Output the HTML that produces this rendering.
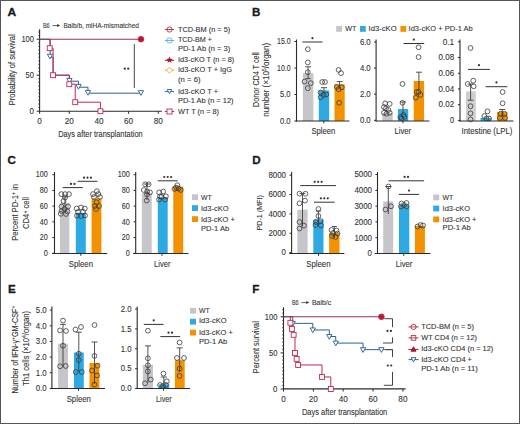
<!DOCTYPE html>
<html><head><meta charset="utf-8"><style>
html,body{margin:0;padding:0;background:#fff;}
body{width:520px;height:424px;overflow:hidden;}
svg{display:block;font-family:"Liberation Sans", sans-serif;}
</style></head><body>
<svg width="520" height="424" viewBox="0 0 520 424">
<rect x="0" y="0" width="520" height="424" fill="#fff"/>
<text x="7.40" y="15.80" font-size="11.6" fill="#1a1a1a" stroke="#1a1a1a" stroke-width="0.3" textLength="8.70" lengthAdjust="spacingAndGlyphs" font-weight="bold">A</text>
<text x="42.90" y="28.00" font-size="7.2" fill="#333333" stroke="#333333" stroke-width="0.1" textLength="6.70" lengthAdjust="spacingAndGlyphs">B6</text>
<line x1="52.50" y1="25.60" x2="58.00" y2="25.60" stroke="#333333" stroke-width="0.8"/>
<polygon points="57.20,24.10 60.20,25.60 57.20,27.10" fill="#333333"/>
<text x="63.50" y="28.00" font-size="7.2" fill="#333333" stroke="#333333" stroke-width="0.1" textLength="75.50" lengthAdjust="spacingAndGlyphs">Balb/b, miHA-mismatched</text>
<line x1="39.60" y1="29.30" x2="39.60" y2="111.80" stroke="#2b2b2b" stroke-width="1.1"/>
<line x1="36.60" y1="111.20" x2="39.60" y2="111.20" stroke="#2b2b2b" stroke-width="1.0"/>
<line x1="38.30" y1="107.60" x2="39.60" y2="107.60" stroke="#2b2b2b" stroke-width="0.8"/>
<line x1="38.30" y1="104.00" x2="39.60" y2="104.00" stroke="#2b2b2b" stroke-width="0.8"/>
<line x1="38.30" y1="100.40" x2="39.60" y2="100.40" stroke="#2b2b2b" stroke-width="0.8"/>
<line x1="38.30" y1="96.80" x2="39.60" y2="96.80" stroke="#2b2b2b" stroke-width="0.8"/>
<line x1="38.30" y1="93.20" x2="39.60" y2="93.20" stroke="#2b2b2b" stroke-width="0.8"/>
<line x1="38.30" y1="89.60" x2="39.60" y2="89.60" stroke="#2b2b2b" stroke-width="0.8"/>
<line x1="38.30" y1="86.00" x2="39.60" y2="86.00" stroke="#2b2b2b" stroke-width="0.8"/>
<line x1="38.30" y1="82.40" x2="39.60" y2="82.40" stroke="#2b2b2b" stroke-width="0.8"/>
<line x1="38.30" y1="78.80" x2="39.60" y2="78.80" stroke="#2b2b2b" stroke-width="0.8"/>
<line x1="36.60" y1="75.20" x2="39.60" y2="75.20" stroke="#2b2b2b" stroke-width="1.0"/>
<line x1="38.30" y1="71.60" x2="39.60" y2="71.60" stroke="#2b2b2b" stroke-width="0.8"/>
<line x1="38.30" y1="68.00" x2="39.60" y2="68.00" stroke="#2b2b2b" stroke-width="0.8"/>
<line x1="38.30" y1="64.40" x2="39.60" y2="64.40" stroke="#2b2b2b" stroke-width="0.8"/>
<line x1="38.30" y1="60.80" x2="39.60" y2="60.80" stroke="#2b2b2b" stroke-width="0.8"/>
<line x1="38.30" y1="57.20" x2="39.60" y2="57.20" stroke="#2b2b2b" stroke-width="0.8"/>
<line x1="38.30" y1="53.60" x2="39.60" y2="53.60" stroke="#2b2b2b" stroke-width="0.8"/>
<line x1="38.30" y1="50.00" x2="39.60" y2="50.00" stroke="#2b2b2b" stroke-width="0.8"/>
<line x1="38.30" y1="46.40" x2="39.60" y2="46.40" stroke="#2b2b2b" stroke-width="0.8"/>
<line x1="38.30" y1="42.80" x2="39.60" y2="42.80" stroke="#2b2b2b" stroke-width="0.8"/>
<line x1="36.60" y1="39.20" x2="39.60" y2="39.20" stroke="#2b2b2b" stroke-width="1.0"/>
<line x1="38.30" y1="35.60" x2="39.60" y2="35.60" stroke="#2b2b2b" stroke-width="0.8"/>
<line x1="38.30" y1="32.00" x2="39.60" y2="32.00" stroke="#2b2b2b" stroke-width="0.8"/>
<text x="34.00" y="42.10" font-size="8.2" fill="#333333" stroke="#333333" stroke-width="0.1" textLength="12.60" lengthAdjust="spacingAndGlyphs" text-anchor="end">100</text>
<text x="34.00" y="78.10" font-size="8.2" fill="#333333" stroke="#333333" stroke-width="0.1" textLength="8.40" lengthAdjust="spacingAndGlyphs" text-anchor="end">50</text>
<text x="34.00" y="114.10" font-size="8.2" fill="#333333" stroke="#333333" stroke-width="0.1" textLength="4.40" lengthAdjust="spacingAndGlyphs" text-anchor="end">0</text>
<line x1="39.10" y1="111.30" x2="161.80" y2="111.30" stroke="#2b2b2b" stroke-width="1.1"/>
<line x1="39.60" y1="111.20" x2="39.60" y2="113.80" stroke="#2b2b2b" stroke-width="1.0"/>
<text x="39.60" y="124.20" font-size="8.2" fill="#333333" stroke="#333333" stroke-width="0.1" text-anchor="middle">0</text>
<line x1="69.28" y1="111.20" x2="69.28" y2="113.80" stroke="#2b2b2b" stroke-width="1.0"/>
<text x="69.28" y="124.20" font-size="8.2" fill="#333333" stroke="#333333" stroke-width="0.1" text-anchor="middle">20</text>
<line x1="98.95" y1="111.20" x2="98.95" y2="113.80" stroke="#2b2b2b" stroke-width="1.0"/>
<text x="98.95" y="124.20" font-size="8.2" fill="#333333" stroke="#333333" stroke-width="0.1" text-anchor="middle">40</text>
<line x1="128.63" y1="111.20" x2="128.63" y2="113.80" stroke="#2b2b2b" stroke-width="1.0"/>
<text x="128.63" y="124.20" font-size="8.2" fill="#333333" stroke="#333333" stroke-width="0.1" text-anchor="middle">60</text>
<line x1="158.30" y1="111.20" x2="158.30" y2="113.80" stroke="#2b2b2b" stroke-width="1.0"/>
<text x="158.30" y="124.20" font-size="8.2" fill="#333333" stroke="#333333" stroke-width="0.1" text-anchor="middle">80</text>
<text x="100.40" y="136.50" font-size="9.0" fill="#333333" stroke="#333333" stroke-width="0.1" textLength="84.50" lengthAdjust="spacingAndGlyphs" text-anchor="middle">Days after transplantation</text>
<text transform="translate(14.60,69.80) rotate(-90)" font-size="8.8" fill="#333333" stroke="#333333" stroke-width="0.1" textLength="70.80" lengthAdjust="spacingAndGlyphs" text-anchor="middle">Probability of survival</text>
<path d="M39.6,39.2 H50.13498 V57.2 H53.10258 V75.2 H69.42438 V81.176 H78.47556 V87.224 H87.97188 V93.2 H140.94353999999998" stroke="#2d5f93" stroke-width="1.0" fill="none" />
<path d="M39.6,39.2 H140.94353999999998" stroke="#983452" stroke-width="1.1" fill="none" />
<path d="M49.9866,39.2 V48.2 H53.10258 V75.2 H69.27600000000001 V84.2 H75.21119999999999 V102.2 H100.4358 V111.2" stroke="#bd2a4c" stroke-width="1.0" fill="none" />
<path d="M47.35,54.22 L52.65,54.22 L50.00,58.98 Z" stroke="#2d5f93" stroke-width="0.9" fill="#fff" />
<path d="M66.77,78.41 L72.07,78.41 L69.42,83.19 Z" stroke="#2d5f93" stroke-width="0.9" fill="#fff" />
<path d="M75.83,84.41 L81.13,84.41 L78.48,89.19 Z" stroke="#2d5f93" stroke-width="0.9" fill="#fff" />
<path d="M85.32,90.41 L90.62,90.41 L87.97,95.19 Z" stroke="#2d5f93" stroke-width="0.9" fill="#fff" />
<path d="M138.29,90.61 L143.59,90.61 L140.94,95.39 Z" stroke="#2d5f93" stroke-width="0.9" fill="#fff" />
<rect x="47.24" y="45.75" width="4.9" height="4.9" stroke="#bd2a4c" stroke-width="0.9" fill="#fff"/>
<rect x="50.65" y="72.75" width="4.9" height="4.9" stroke="#bd2a4c" stroke-width="0.9" fill="#fff"/>
<rect x="66.83" y="81.75" width="4.9" height="4.9" stroke="#bd2a4c" stroke-width="0.9" fill="#fff"/>
<rect x="72.76" y="99.75" width="4.9" height="4.9" stroke="#bd2a4c" stroke-width="0.9" fill="#fff"/>
<rect x="97.99" y="108.75" width="4.9" height="4.9" stroke="#bd2a4c" stroke-width="0.9" fill="#fff"/>
<circle cx="140.94" cy="39.20" r="2.8" stroke="#c81e3a" stroke-width="0.9" fill="#c81e3a"/>
<line x1="139.14" y1="39.20" x2="142.74" y2="39.20" stroke="#7a0a1c" stroke-width="0.6"/>
<line x1="134.30" y1="44.20" x2="134.30" y2="88.00" stroke="#444" stroke-width="1.0"/>
<circle cx="124.78" cy="68.70" r="1.1" fill="#333333"/>
<circle cx="128.22" cy="68.70" r="1.1" fill="#333333"/>
<line x1="164.90" y1="29.50" x2="174.10" y2="29.50" stroke="#bd2a4c" stroke-width="1.0"/>
<circle cx="169.50" cy="29.50" r="2.6" stroke="#bd2a4c" stroke-width="0.9" fill="#fff"/>
<line x1="166.90" y1="29.50" x2="172.10" y2="29.50" stroke="#bd2a4c" stroke-width="0.9"/>
<text x="178.00" y="31.70" font-size="7.4" fill="#333333" stroke="#333333" stroke-width="0.1" textLength="52.20" lengthAdjust="spacingAndGlyphs">TCD-BM (n = 5)</text>
<line x1="164.90" y1="40.50" x2="174.10" y2="40.50" stroke="#5aaee0" stroke-width="1.0"/>
<circle cx="169.50" cy="40.50" r="2.6" stroke="#5aaee0" stroke-width="0.9" fill="#fff"/>
<line x1="166.90" y1="40.50" x2="172.10" y2="40.50" stroke="#5aaee0" stroke-width="0.9"/>
<text x="178.00" y="42.40" font-size="7.4" fill="#333333" stroke="#333333" stroke-width="0.1" textLength="34.00" lengthAdjust="spacingAndGlyphs">TCD-BM +</text>
<text x="178.00" y="51.30" font-size="7.4" fill="#333333" stroke="#333333" stroke-width="0.1" textLength="52.20" lengthAdjust="spacingAndGlyphs">PD-1 Ab (n = 3)</text>
<line x1="164.90" y1="60.30" x2="174.10" y2="60.30" stroke="#a8142e" stroke-width="1.0"/>
<polygon points="169.50,56.60 170.40,58.76 172.73,58.95 170.96,60.47 171.50,62.75 169.50,61.53 167.50,62.75 168.04,60.47 166.27,58.95 168.60,58.76" fill="#a8142e"/>
<text x="178.00" y="62.40" font-size="7.4" fill="#333333" stroke="#333333" stroke-width="0.1" textLength="56.20" lengthAdjust="spacingAndGlyphs">Id3-cKO T (n = 8)</text>
<line x1="164.90" y1="70.20" x2="174.10" y2="70.20" stroke="#f2a23a" stroke-width="1.0"/>
<path d="M169.50,67.20 L172.50,70.20 L169.50,73.20 L166.50,70.20 Z" stroke="#f2a23a" stroke-width="0.9" fill="#fff" />
<text x="178.00" y="72.40" font-size="7.4" fill="#333333" stroke="#333333" stroke-width="0.1" textLength="54.00" lengthAdjust="spacingAndGlyphs">Id3-cKO T + IgG</text>
<text x="178.00" y="81.80" font-size="7.4" fill="#333333" stroke="#333333" stroke-width="0.1" textLength="22.50" lengthAdjust="spacingAndGlyphs">(n = 6)</text>
<line x1="164.90" y1="91.60" x2="174.10" y2="91.60" stroke="#2d5f93" stroke-width="1.0"/>
<path d="M167.20,89.53 L171.80,89.53 L169.50,93.67 Z" stroke="#2d5f93" stroke-width="0.9" fill="#fff" />
<text x="178.00" y="93.60" font-size="7.4" fill="#333333" stroke="#333333" stroke-width="0.1" textLength="40.00" lengthAdjust="spacingAndGlyphs">Id3-cKO T +</text>
<text x="178.00" y="102.90" font-size="7.4" fill="#333333" stroke="#333333" stroke-width="0.1" textLength="55.50" lengthAdjust="spacingAndGlyphs">PD-1 Ab (n = 12)</text>
<line x1="164.90" y1="111.50" x2="174.10" y2="111.50" stroke="#bd2a4c" stroke-width="1.0"/>
<rect x="167.00" y="109.00" width="5.0" height="5.0" stroke="#bd2a4c" stroke-width="0.9" fill="#fff"/>
<text x="178.00" y="113.70" font-size="7.4" fill="#333333" stroke="#333333" stroke-width="0.1" textLength="41.00" lengthAdjust="spacingAndGlyphs">WT T (n = 8)</text>
<text x="252.00" y="16.00" font-size="11.6" fill="#1a1a1a" stroke="#1a1a1a" stroke-width="0.3" font-weight="bold">B</text>
<rect x="336.20" y="26.00" width="5.80" height="5.80" fill="#c6c6ca"/>
<text x="345.20" y="31.20" font-size="7.4" fill="#333333" stroke="#333333" stroke-width="0.1" textLength="11.20" lengthAdjust="spacingAndGlyphs">WT</text>
<rect x="360.00" y="26.00" width="5.80" height="5.80" fill="#2eaae3"/>
<text x="368.60" y="31.20" font-size="7.4" fill="#333333" stroke="#333333" stroke-width="0.1" textLength="28.00" lengthAdjust="spacingAndGlyphs">Id3-cKO</text>
<rect x="400.40" y="26.00" width="5.80" height="5.80" fill="#f39200"/>
<text x="408.60" y="31.20" font-size="7.4" fill="#333333" stroke="#333333" stroke-width="0.1" textLength="64.20" lengthAdjust="spacingAndGlyphs">Id3-cKO + PD-1 Ab</text>
<text transform="translate(259.00,79.60) rotate(-90)" font-size="8.6" fill="#333333" stroke="#333333" stroke-width="0.1" textLength="54.60" lengthAdjust="spacingAndGlyphs" text-anchor="middle">Donor CD4 T cell</text>
<text transform="translate(269.30,79.80) rotate(-90)" font-size="8.6" fill="#333333" stroke="#333333" stroke-width="0.1" textLength="74.00" lengthAdjust="spacingAndGlyphs" text-anchor="middle">number (×10<tspan font-size="5.6" dy="-3.0">5</tspan><tspan dy="3.0">/organ)</tspan></text>
<line x1="296.50" y1="39.50" x2="296.50" y2="121.50" stroke="#2b2b2b" stroke-width="1.1"/>
<line x1="294.40" y1="121.00" x2="296.50" y2="121.00" stroke="#2b2b2b" stroke-width="1.0"/>
<text x="290.60" y="123.70" font-size="8.2" fill="#333333" stroke="#333333" stroke-width="0.1" textLength="10.60" lengthAdjust="spacingAndGlyphs" text-anchor="end">0.0</text>
<line x1="294.40" y1="94.50" x2="296.50" y2="94.50" stroke="#2b2b2b" stroke-width="1.0"/>
<text x="290.60" y="97.20" font-size="8.2" fill="#333333" stroke="#333333" stroke-width="0.1" textLength="10.60" lengthAdjust="spacingAndGlyphs" text-anchor="end">5.0</text>
<line x1="294.40" y1="68.00" x2="296.50" y2="68.00" stroke="#2b2b2b" stroke-width="1.0"/>
<text x="290.60" y="70.70" font-size="8.2" fill="#333333" stroke="#333333" stroke-width="0.1" textLength="13.60" lengthAdjust="spacingAndGlyphs" text-anchor="end">10.0</text>
<line x1="294.40" y1="41.50" x2="296.50" y2="41.50" stroke="#2b2b2b" stroke-width="1.0"/>
<text x="290.60" y="44.20" font-size="8.2" fill="#333333" stroke="#333333" stroke-width="0.1" textLength="13.60" lengthAdjust="spacingAndGlyphs" text-anchor="end">15.0</text>
<rect x="302.80" y="73.20" width="10.60" height="47.80" fill="#c6c6ca"/>
<rect x="318.80" y="90.40" width="10.40" height="30.60" fill="#2eaae3"/>
<rect x="334.50" y="84.30" width="10.20" height="36.70" fill="#f39200"/>
<line x1="296.00" y1="121.00" x2="349.40" y2="121.00" stroke="#2b2b2b" stroke-width="1.2"/>
<line x1="323.80" y1="121.00" x2="323.80" y2="123.20" stroke="#2b2b2b" stroke-width="1.0"/>
<line x1="308.10" y1="66.80" x2="308.10" y2="78.60" stroke="#404040" stroke-width="0.9"/>
<line x1="305.10" y1="66.80" x2="311.10" y2="66.80" stroke="#404040" stroke-width="0.9"/>
<line x1="305.60" y1="78.60" x2="310.60" y2="78.60" stroke="#404040" stroke-width="0.9"/>
<line x1="324.00" y1="87.70" x2="324.00" y2="93.00" stroke="#404040" stroke-width="0.9"/>
<line x1="321.00" y1="87.70" x2="327.00" y2="87.70" stroke="#404040" stroke-width="0.9"/>
<line x1="339.60" y1="81.60" x2="339.60" y2="87.50" stroke="#404040" stroke-width="0.9"/>
<line x1="336.60" y1="81.60" x2="342.60" y2="81.60" stroke="#404040" stroke-width="0.9"/>
<circle cx="307.80" cy="49.20" r="2.4" stroke="#3a3a3a" stroke-width="0.8" fill="none"/>
<circle cx="307.80" cy="62.40" r="2.4" stroke="#3a3a3a" stroke-width="0.8" fill="none"/>
<circle cx="307.80" cy="72.20" r="2.4" stroke="#3a3a3a" stroke-width="0.8" fill="none"/>
<circle cx="304.60" cy="81.60" r="2.4" stroke="#3a3a3a" stroke-width="0.8" fill="none"/>
<circle cx="310.80" cy="83.10" r="2.4" stroke="#3a3a3a" stroke-width="0.8" fill="none"/>
<circle cx="307.80" cy="88.20" r="2.4" stroke="#3a3a3a" stroke-width="0.8" fill="none"/>
<circle cx="322.20" cy="82.00" r="2.4" stroke="#3a3a3a" stroke-width="0.8" fill="none"/>
<circle cx="325.00" cy="82.00" r="2.4" stroke="#3a3a3a" stroke-width="0.8" fill="none"/>
<circle cx="320.60" cy="92.60" r="2.4" stroke="#3a3a3a" stroke-width="0.8" fill="none"/>
<circle cx="326.30" cy="94.50" r="2.4" stroke="#3a3a3a" stroke-width="0.8" fill="none"/>
<circle cx="320.60" cy="97.30" r="2.4" stroke="#3a3a3a" stroke-width="0.8" fill="none"/>
<circle cx="323.60" cy="95.00" r="2.4" stroke="#3a3a3a" stroke-width="0.8" fill="none"/>
<circle cx="338.60" cy="69.90" r="2.4" stroke="#3a3a3a" stroke-width="0.8" fill="none"/>
<circle cx="341.00" cy="73.10" r="2.4" stroke="#3a3a3a" stroke-width="0.8" fill="none"/>
<circle cx="336.70" cy="86.90" r="2.4" stroke="#3a3a3a" stroke-width="0.8" fill="none"/>
<circle cx="341.80" cy="87.30" r="2.4" stroke="#3a3a3a" stroke-width="0.8" fill="none"/>
<circle cx="338.60" cy="89.20" r="2.4" stroke="#3a3a3a" stroke-width="0.8" fill="none"/>
<circle cx="339.10" cy="102.80" r="2.4" stroke="#3a3a3a" stroke-width="0.8" fill="none"/>
<line x1="302.40" y1="42.00" x2="322.50" y2="42.00" stroke="#333333" stroke-width="1.0"/>
<circle cx="312.45" cy="38.20" r="1.1" fill="#333333"/>
<text x="323.40" y="134.00" font-size="8.2" fill="#333333" stroke="#333333" stroke-width="0.1" textLength="24.00" lengthAdjust="spacingAndGlyphs" text-anchor="middle">Spleen</text>
<line x1="376.10" y1="39.50" x2="376.10" y2="121.50" stroke="#2b2b2b" stroke-width="1.1"/>
<line x1="374.00" y1="120.30" x2="376.10" y2="120.30" stroke="#2b2b2b" stroke-width="1.0"/>
<text x="370.70" y="123.00" font-size="8.2" fill="#333333" stroke="#333333" stroke-width="0.1" textLength="10.80" lengthAdjust="spacingAndGlyphs" text-anchor="end">0.0</text>
<line x1="374.00" y1="94.20" x2="376.10" y2="94.20" stroke="#2b2b2b" stroke-width="1.0"/>
<text x="370.70" y="96.90" font-size="8.2" fill="#333333" stroke="#333333" stroke-width="0.1" textLength="10.80" lengthAdjust="spacingAndGlyphs" text-anchor="end">2.0</text>
<line x1="374.00" y1="68.10" x2="376.10" y2="68.10" stroke="#2b2b2b" stroke-width="1.0"/>
<text x="370.70" y="70.80" font-size="8.2" fill="#333333" stroke="#333333" stroke-width="0.1" textLength="10.80" lengthAdjust="spacingAndGlyphs" text-anchor="end">4.0</text>
<line x1="374.00" y1="42.00" x2="376.10" y2="42.00" stroke="#2b2b2b" stroke-width="1.0"/>
<text x="370.70" y="44.70" font-size="8.2" fill="#333333" stroke="#333333" stroke-width="0.1" textLength="10.80" lengthAdjust="spacingAndGlyphs" text-anchor="end">6.0</text>
<rect x="382.30" y="113.00" width="10.40" height="8.00" fill="#c6c6ca"/>
<rect x="397.90" y="109.00" width="10.30" height="12.00" fill="#2eaae3"/>
<rect x="413.70" y="81.00" width="10.40" height="40.00" fill="#f39200"/>
<line x1="375.60" y1="121.00" x2="429.40" y2="121.00" stroke="#2b2b2b" stroke-width="1.2"/>
<line x1="403.00" y1="121.00" x2="403.00" y2="123.20" stroke="#2b2b2b" stroke-width="1.0"/>
<line x1="418.90" y1="72.20" x2="418.90" y2="90.00" stroke="#404040" stroke-width="0.9"/>
<line x1="415.90" y1="72.20" x2="421.90" y2="72.20" stroke="#404040" stroke-width="0.9"/>
<line x1="403.00" y1="102.00" x2="403.00" y2="115.00" stroke="#404040" stroke-width="0.9"/>
<line x1="400.00" y1="102.00" x2="406.00" y2="102.00" stroke="#404040" stroke-width="0.9"/>
<circle cx="385.20" cy="103.30" r="2.4" stroke="#3a3a3a" stroke-width="0.8" fill="none"/>
<circle cx="389.70" cy="103.90" r="2.4" stroke="#3a3a3a" stroke-width="0.8" fill="none"/>
<circle cx="384.00" cy="107.10" r="2.4" stroke="#3a3a3a" stroke-width="0.8" fill="none"/>
<circle cx="388.40" cy="109.90" r="2.4" stroke="#3a3a3a" stroke-width="0.8" fill="none"/>
<circle cx="384.00" cy="112.80" r="2.4" stroke="#3a3a3a" stroke-width="0.8" fill="none"/>
<circle cx="389.70" cy="112.80" r="2.4" stroke="#3a3a3a" stroke-width="0.8" fill="none"/>
<circle cx="386.50" cy="113.70" r="2.4" stroke="#3a3a3a" stroke-width="0.8" fill="none"/>
<circle cx="386.00" cy="108.40" r="2.4" stroke="#3a3a3a" stroke-width="0.8" fill="none"/>
<circle cx="402.50" cy="83.90" r="2.4" stroke="#3a3a3a" stroke-width="0.8" fill="none"/>
<circle cx="402.50" cy="102.80" r="2.4" stroke="#3a3a3a" stroke-width="0.8" fill="none"/>
<circle cx="400.30" cy="117.10" r="2.4" stroke="#3a3a3a" stroke-width="0.8" fill="none"/>
<circle cx="404.40" cy="117.00" r="2.4" stroke="#3a3a3a" stroke-width="0.8" fill="none"/>
<circle cx="401.60" cy="118.40" r="2.4" stroke="#3a3a3a" stroke-width="0.8" fill="none"/>
<circle cx="403.50" cy="115.00" r="2.4" stroke="#3a3a3a" stroke-width="0.8" fill="none"/>
<circle cx="418.60" cy="47.30" r="2.4" stroke="#3a3a3a" stroke-width="0.8" fill="none"/>
<circle cx="418.60" cy="57.10" r="2.4" stroke="#3a3a3a" stroke-width="0.8" fill="none"/>
<circle cx="416.70" cy="92.00" r="2.4" stroke="#3a3a3a" stroke-width="0.8" fill="none"/>
<circle cx="420.50" cy="94.80" r="2.4" stroke="#3a3a3a" stroke-width="0.8" fill="none"/>
<circle cx="415.70" cy="97.70" r="2.4" stroke="#3a3a3a" stroke-width="0.8" fill="none"/>
<circle cx="418.60" cy="92.00" r="2.4" stroke="#3a3a3a" stroke-width="0.8" fill="none"/>
<line x1="403.50" y1="43.50" x2="424.20" y2="43.50" stroke="#333333" stroke-width="1.0"/>
<circle cx="413.85" cy="39.60" r="1.1" fill="#333333"/>
<text x="402.80" y="134.00" font-size="8.2" fill="#333333" stroke="#333333" stroke-width="0.1" textLength="16.40" lengthAdjust="spacingAndGlyphs" text-anchor="middle">Liver</text>
<line x1="460.00" y1="39.50" x2="460.00" y2="121.50" stroke="#2b2b2b" stroke-width="1.1"/>
<line x1="457.90" y1="120.40" x2="460.00" y2="120.40" stroke="#2b2b2b" stroke-width="1.0"/>
<text x="454.20" y="123.10" font-size="8.2" fill="#333333" stroke="#333333" stroke-width="0.1" textLength="4.20" lengthAdjust="spacingAndGlyphs" text-anchor="end">0</text>
<line x1="457.90" y1="104.68" x2="460.00" y2="104.68" stroke="#2b2b2b" stroke-width="1.0"/>
<text x="454.20" y="107.38" font-size="8.2" fill="#333333" stroke="#333333" stroke-width="0.1" textLength="15.60" lengthAdjust="spacingAndGlyphs" text-anchor="end">0.02</text>
<line x1="457.90" y1="88.96" x2="460.00" y2="88.96" stroke="#2b2b2b" stroke-width="1.0"/>
<text x="454.20" y="91.66" font-size="8.2" fill="#333333" stroke="#333333" stroke-width="0.1" textLength="15.60" lengthAdjust="spacingAndGlyphs" text-anchor="end">0.04</text>
<line x1="457.90" y1="73.24" x2="460.00" y2="73.24" stroke="#2b2b2b" stroke-width="1.0"/>
<text x="454.20" y="75.94" font-size="8.2" fill="#333333" stroke="#333333" stroke-width="0.1" textLength="15.60" lengthAdjust="spacingAndGlyphs" text-anchor="end">0.06</text>
<line x1="457.90" y1="57.52" x2="460.00" y2="57.52" stroke="#2b2b2b" stroke-width="1.0"/>
<text x="454.20" y="60.22" font-size="8.2" fill="#333333" stroke="#333333" stroke-width="0.1" textLength="15.60" lengthAdjust="spacingAndGlyphs" text-anchor="end">0.08</text>
<line x1="457.90" y1="41.80" x2="460.00" y2="41.80" stroke="#2b2b2b" stroke-width="1.0"/>
<text x="454.20" y="44.50" font-size="8.2" fill="#333333" stroke="#333333" stroke-width="0.1" textLength="11.50" lengthAdjust="spacingAndGlyphs" text-anchor="end">0.1</text>
<rect x="466.00" y="91.40" width="9.80" height="29.60" fill="#cfcfd2"/>
<rect x="480.50" y="118.00" width="10.80" height="3.00" fill="#2eaae3"/>
<rect x="497.00" y="112.00" width="10.40" height="9.00" fill="#f39200"/>
<line x1="459.50" y1="121.00" x2="513.50" y2="121.00" stroke="#2b2b2b" stroke-width="1.2"/>
<line x1="470.60" y1="84.00" x2="470.60" y2="100.20" stroke="#404040" stroke-width="0.9"/>
<line x1="467.60" y1="84.00" x2="473.60" y2="84.00" stroke="#404040" stroke-width="0.9"/>
<line x1="467.60" y1="100.20" x2="473.60" y2="100.20" stroke="#404040" stroke-width="0.9"/>
<line x1="502.20" y1="109.50" x2="502.20" y2="116.00" stroke="#404040" stroke-width="0.9"/>
<line x1="499.20" y1="109.50" x2="505.20" y2="109.50" stroke="#404040" stroke-width="0.9"/>
<circle cx="470.50" cy="48.00" r="2.4" stroke="#3a3a3a" stroke-width="0.8" fill="none"/>
<circle cx="467.70" cy="83.90" r="2.4" stroke="#3a3a3a" stroke-width="0.8" fill="none"/>
<circle cx="473.30" cy="80.70" r="2.4" stroke="#3a3a3a" stroke-width="0.8" fill="none"/>
<circle cx="473.70" cy="86.30" r="2.4" stroke="#3a3a3a" stroke-width="0.8" fill="none"/>
<circle cx="470.50" cy="106.20" r="2.4" stroke="#3a3a3a" stroke-width="0.8" fill="none"/>
<circle cx="470.50" cy="113.30" r="2.4" stroke="#3a3a3a" stroke-width="0.8" fill="none"/>
<circle cx="470.50" cy="119.40" r="2.4" stroke="#3a3a3a" stroke-width="0.8" fill="none"/>
<circle cx="487.50" cy="111.40" r="2.4" stroke="#3a3a3a" stroke-width="0.8" fill="none"/>
<circle cx="484.30" cy="116.00" r="2.4" stroke="#3a3a3a" stroke-width="0.8" fill="none"/>
<circle cx="486.50" cy="118.50" r="2.4" stroke="#3a3a3a" stroke-width="0.8" fill="none"/>
<circle cx="489.00" cy="118.50" r="2.4" stroke="#3a3a3a" stroke-width="0.8" fill="none"/>
<circle cx="502.60" cy="92.00" r="2.4" stroke="#3a3a3a" stroke-width="0.8" fill="none"/>
<circle cx="502.60" cy="103.30" r="2.4" stroke="#3a3a3a" stroke-width="0.8" fill="none"/>
<circle cx="500.70" cy="113.70" r="2.4" stroke="#3a3a3a" stroke-width="0.8" fill="none"/>
<circle cx="504.50" cy="113.70" r="2.4" stroke="#3a3a3a" stroke-width="0.8" fill="none"/>
<circle cx="500.00" cy="118.00" r="2.4" stroke="#3a3a3a" stroke-width="0.8" fill="none"/>
<circle cx="505.00" cy="118.00" r="2.4" stroke="#3a3a3a" stroke-width="0.8" fill="none"/>
<line x1="468.00" y1="69.40" x2="489.90" y2="69.40" stroke="#333333" stroke-width="1.0"/>
<circle cx="478.95" cy="65.20" r="1.1" fill="#333333"/>
<line x1="485.60" y1="86.70" x2="507.30" y2="86.70" stroke="#333333" stroke-width="1.0"/>
<circle cx="496.45" cy="82.40" r="1.1" fill="#333333"/>
<text x="487.00" y="134.10" font-size="8.2" fill="#333333" stroke="#333333" stroke-width="0.1" textLength="50.80" lengthAdjust="spacingAndGlyphs" text-anchor="middle">Intestine (LPL)</text>
<text x="7.60" y="164.20" font-size="11.6" fill="#1a1a1a" stroke="#1a1a1a" stroke-width="0.3" font-weight="bold">C</text>
<text transform="translate(17.90,212.40) rotate(-90)" font-size="8.4" fill="#333333" stroke="#333333" stroke-width="0.1" textLength="56.80" lengthAdjust="spacingAndGlyphs" text-anchor="middle">Percent PD-1<tspan font-size="5.5" dy="-2.8">+</tspan><tspan dy="2.8"> in</tspan></text>
<text transform="translate(29.40,213.00) rotate(-90)" font-size="8.4" fill="#333333" stroke="#333333" stroke-width="0.1" textLength="32.00" lengthAdjust="spacingAndGlyphs" text-anchor="middle">CD4<tspan font-size="5.5" dy="-2.8">+</tspan><tspan dy="2.8"> cell</tspan></text>
<line x1="54.50" y1="172.00" x2="54.50" y2="253.80" stroke="#2b2b2b" stroke-width="1.1"/>
<line x1="52.40" y1="253.30" x2="54.50" y2="253.30" stroke="#2b2b2b" stroke-width="1.0"/>
<text x="47.70" y="256.00" font-size="8.3" fill="#333333" stroke="#333333" stroke-width="0.1" textLength="4.00" lengthAdjust="spacingAndGlyphs" text-anchor="end">0</text>
<line x1="52.40" y1="237.58" x2="54.50" y2="237.58" stroke="#2b2b2b" stroke-width="1.0"/>
<text x="47.70" y="240.28" font-size="8.3" fill="#333333" stroke="#333333" stroke-width="0.1" textLength="8.00" lengthAdjust="spacingAndGlyphs" text-anchor="end">20</text>
<line x1="52.40" y1="221.86" x2="54.50" y2="221.86" stroke="#2b2b2b" stroke-width="1.0"/>
<text x="47.70" y="224.56" font-size="8.3" fill="#333333" stroke="#333333" stroke-width="0.1" textLength="8.00" lengthAdjust="spacingAndGlyphs" text-anchor="end">40</text>
<line x1="52.40" y1="206.14" x2="54.50" y2="206.14" stroke="#2b2b2b" stroke-width="1.0"/>
<text x="47.70" y="208.84" font-size="8.3" fill="#333333" stroke="#333333" stroke-width="0.1" textLength="8.00" lengthAdjust="spacingAndGlyphs" text-anchor="end">60</text>
<line x1="52.40" y1="190.42" x2="54.50" y2="190.42" stroke="#2b2b2b" stroke-width="1.0"/>
<text x="47.70" y="193.12" font-size="8.3" fill="#333333" stroke="#333333" stroke-width="0.1" textLength="8.00" lengthAdjust="spacingAndGlyphs" text-anchor="end">80</text>
<line x1="52.40" y1="174.70" x2="54.50" y2="174.70" stroke="#2b2b2b" stroke-width="1.0"/>
<text x="47.70" y="177.40" font-size="8.3" fill="#333333" stroke="#333333" stroke-width="0.1" textLength="12.00" lengthAdjust="spacingAndGlyphs" text-anchor="end">100</text>
<rect x="59.90" y="202.80" width="9.40" height="50.50" fill="#c6c6ca"/>
<rect x="75.80" y="212.80" width="10.00" height="40.50" fill="#2eaae3"/>
<rect x="91.60" y="198.40" width="9.80" height="54.90" fill="#f39200"/>
<line x1="52.00" y1="253.50" x2="107.20" y2="253.50" stroke="#2b2b2b" stroke-width="1.2"/>
<line x1="80.80" y1="253.50" x2="80.80" y2="255.80" stroke="#2b2b2b" stroke-width="1.0"/>
<circle cx="61.30" cy="194.10" r="2.4" stroke="#3a3a3a" stroke-width="0.8" fill="none"/>
<circle cx="65.10" cy="194.10" r="2.4" stroke="#3a3a3a" stroke-width="0.8" fill="none"/>
<circle cx="69.00" cy="194.10" r="2.4" stroke="#3a3a3a" stroke-width="0.8" fill="none"/>
<circle cx="65.00" cy="197.50" r="2.4" stroke="#3a3a3a" stroke-width="0.8" fill="none"/>
<circle cx="63.50" cy="201.00" r="2.4" stroke="#3a3a3a" stroke-width="0.8" fill="none"/>
<circle cx="61.50" cy="206.60" r="2.4" stroke="#3a3a3a" stroke-width="0.8" fill="none"/>
<circle cx="68.00" cy="206.60" r="2.4" stroke="#3a3a3a" stroke-width="0.8" fill="none"/>
<circle cx="64.50" cy="209.00" r="2.4" stroke="#3a3a3a" stroke-width="0.8" fill="none"/>
<circle cx="61.50" cy="211.00" r="2.4" stroke="#3a3a3a" stroke-width="0.8" fill="none"/>
<circle cx="67.50" cy="211.50" r="2.4" stroke="#3a3a3a" stroke-width="0.8" fill="none"/>
<circle cx="60.80" cy="213.80" r="2.4" stroke="#3a3a3a" stroke-width="0.8" fill="none"/>
<circle cx="66.00" cy="214.00" r="2.4" stroke="#3a3a3a" stroke-width="0.8" fill="none"/>
<line x1="65.00" y1="197.00" x2="65.00" y2="212.00" stroke="#404040" stroke-width="0.9"/>
<line x1="62.00" y1="197.00" x2="68.00" y2="197.00" stroke="#404040" stroke-width="0.9"/>
<circle cx="76.70" cy="208.50" r="2.4" stroke="#3a3a3a" stroke-width="0.8" fill="none"/>
<circle cx="81.00" cy="207.50" r="2.4" stroke="#3a3a3a" stroke-width="0.8" fill="none"/>
<circle cx="84.80" cy="208.50" r="2.4" stroke="#3a3a3a" stroke-width="0.8" fill="none"/>
<circle cx="78.00" cy="211.90" r="2.4" stroke="#3a3a3a" stroke-width="0.8" fill="none"/>
<circle cx="83.00" cy="211.90" r="2.4" stroke="#3a3a3a" stroke-width="0.8" fill="none"/>
<circle cx="77.00" cy="215.70" r="2.4" stroke="#3a3a3a" stroke-width="0.8" fill="none"/>
<circle cx="81.00" cy="216.00" r="2.4" stroke="#3a3a3a" stroke-width="0.8" fill="none"/>
<circle cx="85.00" cy="215.50" r="2.4" stroke="#3a3a3a" stroke-width="0.8" fill="none"/>
<circle cx="96.90" cy="191.20" r="2.4" stroke="#3a3a3a" stroke-width="0.8" fill="none"/>
<circle cx="93.00" cy="194.10" r="2.4" stroke="#3a3a3a" stroke-width="0.8" fill="none"/>
<circle cx="98.30" cy="194.10" r="2.4" stroke="#3a3a3a" stroke-width="0.8" fill="none"/>
<circle cx="94.00" cy="197.00" r="2.4" stroke="#3a3a3a" stroke-width="0.8" fill="none"/>
<circle cx="100.00" cy="197.00" r="2.4" stroke="#3a3a3a" stroke-width="0.8" fill="none"/>
<circle cx="96.50" cy="202.30" r="2.4" stroke="#3a3a3a" stroke-width="0.8" fill="none"/>
<circle cx="95.00" cy="206.00" r="2.4" stroke="#3a3a3a" stroke-width="0.8" fill="none"/>
<circle cx="99.00" cy="206.00" r="2.4" stroke="#3a3a3a" stroke-width="0.8" fill="none"/>
<circle cx="96.00" cy="209.00" r="2.4" stroke="#3a3a3a" stroke-width="0.8" fill="none"/>
<line x1="62.70" y1="187.60" x2="82.80" y2="187.60" stroke="#333333" stroke-width="1.0"/>
<circle cx="71.03" cy="183.90" r="1.1" fill="#333333"/>
<circle cx="74.48" cy="183.90" r="1.1" fill="#333333"/>
<line x1="77.60" y1="181.30" x2="97.40" y2="181.30" stroke="#333333" stroke-width="1.0"/>
<circle cx="84.05" cy="177.70" r="1.1" fill="#333333"/>
<circle cx="87.50" cy="177.70" r="1.1" fill="#333333"/>
<circle cx="90.95" cy="177.70" r="1.1" fill="#333333"/>
<text x="80.90" y="267.10" font-size="8.3" fill="#333333" stroke="#333333" stroke-width="0.1" textLength="24.30" lengthAdjust="spacingAndGlyphs" text-anchor="middle">Spleen</text>
<line x1="135.70" y1="172.00" x2="135.70" y2="253.80" stroke="#2b2b2b" stroke-width="1.1"/>
<line x1="133.60" y1="253.30" x2="135.70" y2="253.30" stroke="#2b2b2b" stroke-width="1.0"/>
<text x="129.70" y="256.00" font-size="8.3" fill="#333333" stroke="#333333" stroke-width="0.1" textLength="4.00" lengthAdjust="spacingAndGlyphs" text-anchor="end">0</text>
<line x1="133.60" y1="237.58" x2="135.70" y2="237.58" stroke="#2b2b2b" stroke-width="1.0"/>
<text x="129.70" y="240.28" font-size="8.3" fill="#333333" stroke="#333333" stroke-width="0.1" textLength="8.00" lengthAdjust="spacingAndGlyphs" text-anchor="end">20</text>
<line x1="133.60" y1="221.86" x2="135.70" y2="221.86" stroke="#2b2b2b" stroke-width="1.0"/>
<text x="129.70" y="224.56" font-size="8.3" fill="#333333" stroke="#333333" stroke-width="0.1" textLength="8.00" lengthAdjust="spacingAndGlyphs" text-anchor="end">40</text>
<line x1="133.60" y1="206.14" x2="135.70" y2="206.14" stroke="#2b2b2b" stroke-width="1.0"/>
<text x="129.70" y="208.84" font-size="8.3" fill="#333333" stroke="#333333" stroke-width="0.1" textLength="8.00" lengthAdjust="spacingAndGlyphs" text-anchor="end">60</text>
<line x1="133.60" y1="190.42" x2="135.70" y2="190.42" stroke="#2b2b2b" stroke-width="1.0"/>
<text x="129.70" y="193.12" font-size="8.3" fill="#333333" stroke="#333333" stroke-width="0.1" textLength="8.00" lengthAdjust="spacingAndGlyphs" text-anchor="end">80</text>
<line x1="133.60" y1="174.70" x2="135.70" y2="174.70" stroke="#2b2b2b" stroke-width="1.0"/>
<text x="129.70" y="177.40" font-size="8.3" fill="#333333" stroke="#333333" stroke-width="0.1" textLength="12.00" lengthAdjust="spacingAndGlyphs" text-anchor="end">100</text>
<rect x="141.80" y="192.90" width="9.90" height="60.40" fill="#c6c6ca"/>
<rect x="157.80" y="197.70" width="9.90" height="55.60" fill="#2eaae3"/>
<rect x="173.30" y="186.70" width="9.90" height="66.60" fill="#f39200"/>
<line x1="133.20" y1="253.50" x2="188.50" y2="253.50" stroke="#2b2b2b" stroke-width="1.2"/>
<line x1="162.00" y1="253.50" x2="162.00" y2="255.80" stroke="#2b2b2b" stroke-width="1.0"/>
<circle cx="145.20" cy="184.30" r="2.4" stroke="#3a3a3a" stroke-width="0.8" fill="none"/>
<circle cx="148.60" cy="184.30" r="2.4" stroke="#3a3a3a" stroke-width="0.8" fill="none"/>
<circle cx="143.80" cy="190.00" r="2.4" stroke="#3a3a3a" stroke-width="0.8" fill="none"/>
<circle cx="147.10" cy="191.50" r="2.4" stroke="#3a3a3a" stroke-width="0.8" fill="none"/>
<circle cx="150.00" cy="192.40" r="2.4" stroke="#3a3a3a" stroke-width="0.8" fill="none"/>
<circle cx="147.00" cy="194.50" r="2.4" stroke="#3a3a3a" stroke-width="0.8" fill="none"/>
<circle cx="146.70" cy="200.60" r="2.4" stroke="#3a3a3a" stroke-width="0.8" fill="none"/>
<line x1="147.00" y1="184.00" x2="147.00" y2="200.00" stroke="#404040" stroke-width="0.9"/>
<line x1="144.00" y1="184.00" x2="150.00" y2="184.00" stroke="#404040" stroke-width="0.9"/>
<circle cx="159.20" cy="192.40" r="2.4" stroke="#3a3a3a" stroke-width="0.8" fill="none"/>
<circle cx="163.20" cy="191.50" r="2.4" stroke="#3a3a3a" stroke-width="0.8" fill="none"/>
<circle cx="160.00" cy="196.30" r="2.4" stroke="#3a3a3a" stroke-width="0.8" fill="none"/>
<circle cx="161.60" cy="196.80" r="2.4" stroke="#3a3a3a" stroke-width="0.8" fill="none"/>
<circle cx="165.90" cy="196.30" r="2.4" stroke="#3a3a3a" stroke-width="0.8" fill="none"/>
<circle cx="159.00" cy="199.60" r="2.4" stroke="#3a3a3a" stroke-width="0.8" fill="none"/>
<circle cx="165.00" cy="199.60" r="2.4" stroke="#3a3a3a" stroke-width="0.8" fill="none"/>
<circle cx="177.40" cy="185.20" r="2.4" stroke="#3a3a3a" stroke-width="0.8" fill="none"/>
<circle cx="174.50" cy="189.00" r="2.4" stroke="#3a3a3a" stroke-width="0.8" fill="none"/>
<circle cx="180.80" cy="190.00" r="2.4" stroke="#3a3a3a" stroke-width="0.8" fill="none"/>
<circle cx="176.00" cy="187.60" r="2.4" stroke="#3a3a3a" stroke-width="0.8" fill="none"/>
<circle cx="178.50" cy="188.50" r="2.4" stroke="#3a3a3a" stroke-width="0.8" fill="none"/>
<line x1="157.80" y1="180.80" x2="177.60" y2="180.80" stroke="#333333" stroke-width="1.0"/>
<circle cx="164.25" cy="177.00" r="1.1" fill="#333333"/>
<circle cx="167.70" cy="177.00" r="1.1" fill="#333333"/>
<circle cx="171.15" cy="177.00" r="1.1" fill="#333333"/>
<text x="162.30" y="267.10" font-size="8.3" fill="#333333" stroke="#333333" stroke-width="0.1" textLength="16.50" lengthAdjust="spacingAndGlyphs" text-anchor="middle">Liver</text>
<rect x="192.00" y="194.30" width="6.00" height="5.80" fill="#c6c6ca"/>
<rect x="192.00" y="205.20" width="6.00" height="5.80" fill="#2eaae3"/>
<rect x="192.00" y="216.20" width="6.00" height="5.80" fill="#f39200"/>
<text x="201.00" y="199.60" font-size="7.4" fill="#333333" stroke="#333333" stroke-width="0.1" textLength="10.70" lengthAdjust="spacingAndGlyphs">WT</text>
<text x="201.00" y="210.60" font-size="7.4" fill="#333333" stroke="#333333" stroke-width="0.1" textLength="27.50" lengthAdjust="spacingAndGlyphs">Id3-cKO</text>
<text x="201.00" y="221.60" font-size="7.4" fill="#333333" stroke="#333333" stroke-width="0.1" textLength="33.80" lengthAdjust="spacingAndGlyphs">Id3-cKO +</text>
<text x="201.00" y="230.50" font-size="7.4" fill="#333333" stroke="#333333" stroke-width="0.1" textLength="28.20" lengthAdjust="spacingAndGlyphs">PD-1 Ab</text>
<text x="252.30" y="164.20" font-size="11.6" fill="#1a1a1a" stroke="#1a1a1a" stroke-width="0.3" font-weight="bold">D</text>
<text transform="translate(261.50,212.80) rotate(-90)" font-size="7.8" fill="#333333" stroke="#333333" stroke-width="0.1" textLength="35.30" lengthAdjust="spacingAndGlyphs" text-anchor="middle">PD-1 (MFI)</text>
<line x1="291.60" y1="172.00" x2="291.60" y2="253.80" stroke="#2b2b2b" stroke-width="1.1"/>
<line x1="289.50" y1="252.60" x2="291.60" y2="252.60" stroke="#2b2b2b" stroke-width="1.0"/>
<text x="286.00" y="255.40" font-size="8.3" fill="#333333" stroke="#333333" stroke-width="0.1" textLength="4.40" lengthAdjust="spacingAndGlyphs" text-anchor="end">0</text>
<line x1="289.50" y1="233.25" x2="291.60" y2="233.25" stroke="#2b2b2b" stroke-width="1.0"/>
<text x="286.00" y="236.05" font-size="8.3" fill="#333333" stroke="#333333" stroke-width="0.1" textLength="17.60" lengthAdjust="spacingAndGlyphs" text-anchor="end">2000</text>
<line x1="289.50" y1="213.90" x2="291.60" y2="213.90" stroke="#2b2b2b" stroke-width="1.0"/>
<text x="286.00" y="216.70" font-size="8.3" fill="#333333" stroke="#333333" stroke-width="0.1" textLength="17.60" lengthAdjust="spacingAndGlyphs" text-anchor="end">4000</text>
<line x1="289.50" y1="194.55" x2="291.60" y2="194.55" stroke="#2b2b2b" stroke-width="1.0"/>
<text x="286.00" y="197.35" font-size="8.3" fill="#333333" stroke="#333333" stroke-width="0.1" textLength="17.60" lengthAdjust="spacingAndGlyphs" text-anchor="end">6000</text>
<line x1="289.50" y1="175.20" x2="291.60" y2="175.20" stroke="#2b2b2b" stroke-width="1.0"/>
<text x="286.00" y="178.00" font-size="8.3" fill="#333333" stroke="#333333" stroke-width="0.1" textLength="17.60" lengthAdjust="spacingAndGlyphs" text-anchor="end">8000</text>
<rect x="297.40" y="209.70" width="10.20" height="43.60" fill="#c6c6ca"/>
<rect x="313.30" y="219.50" width="10.20" height="33.80" fill="#2eaae3"/>
<rect x="329.10" y="233.00" width="10.40" height="20.30" fill="#f39200"/>
<line x1="289.20" y1="253.50" x2="344.40" y2="253.50" stroke="#2b2b2b" stroke-width="1.2"/>
<line x1="318.50" y1="253.50" x2="318.50" y2="255.80" stroke="#2b2b2b" stroke-width="1.0"/>
<line x1="302.50" y1="193.40" x2="302.50" y2="226.00" stroke="#404040" stroke-width="0.9"/>
<line x1="299.50" y1="193.40" x2="305.50" y2="193.40" stroke="#404040" stroke-width="0.9"/>
<line x1="318.40" y1="211.00" x2="318.40" y2="226.00" stroke="#404040" stroke-width="0.9"/>
<line x1="315.90" y1="211.00" x2="320.90" y2="211.00" stroke="#404040" stroke-width="0.9"/>
<line x1="334.30" y1="226.50" x2="334.30" y2="238.00" stroke="#404040" stroke-width="0.9"/>
<line x1="331.80" y1="226.50" x2="336.80" y2="226.50" stroke="#404040" stroke-width="0.9"/>
<circle cx="299.50" cy="193.70" r="2.4" stroke="#3a3a3a" stroke-width="0.8" fill="none"/>
<circle cx="305.50" cy="193.70" r="2.4" stroke="#3a3a3a" stroke-width="0.8" fill="none"/>
<circle cx="299.50" cy="203.30" r="2.4" stroke="#3a3a3a" stroke-width="0.8" fill="none"/>
<circle cx="305.00" cy="200.60" r="2.4" stroke="#3a3a3a" stroke-width="0.8" fill="none"/>
<circle cx="299.50" cy="222.00" r="2.4" stroke="#3a3a3a" stroke-width="0.8" fill="none"/>
<circle cx="304.00" cy="225.60" r="2.4" stroke="#3a3a3a" stroke-width="0.8" fill="none"/>
<circle cx="299.50" cy="228.50" r="2.4" stroke="#3a3a3a" stroke-width="0.8" fill="none"/>
<circle cx="318.40" cy="209.00" r="2.4" stroke="#3a3a3a" stroke-width="0.8" fill="none"/>
<circle cx="318.40" cy="216.00" r="2.4" stroke="#3a3a3a" stroke-width="0.8" fill="none"/>
<circle cx="316.00" cy="222.00" r="2.4" stroke="#3a3a3a" stroke-width="0.8" fill="none"/>
<circle cx="320.50" cy="221.00" r="2.4" stroke="#3a3a3a" stroke-width="0.8" fill="none"/>
<circle cx="315.50" cy="225.00" r="2.4" stroke="#3a3a3a" stroke-width="0.8" fill="none"/>
<circle cx="321.00" cy="225.50" r="2.4" stroke="#3a3a3a" stroke-width="0.8" fill="none"/>
<circle cx="331.50" cy="230.00" r="2.4" stroke="#3a3a3a" stroke-width="0.8" fill="none"/>
<circle cx="336.50" cy="230.50" r="2.4" stroke="#3a3a3a" stroke-width="0.8" fill="none"/>
<circle cx="333.00" cy="233.00" r="2.4" stroke="#3a3a3a" stroke-width="0.8" fill="none"/>
<circle cx="337.50" cy="233.50" r="2.4" stroke="#3a3a3a" stroke-width="0.8" fill="none"/>
<circle cx="332.00" cy="236.00" r="2.4" stroke="#3a3a3a" stroke-width="0.8" fill="none"/>
<circle cx="335.50" cy="237.00" r="2.4" stroke="#3a3a3a" stroke-width="0.8" fill="none"/>
<line x1="300.30" y1="185.60" x2="336.00" y2="185.60" stroke="#333333" stroke-width="1.0"/>
<circle cx="314.70" cy="181.80" r="1.1" fill="#333333"/>
<circle cx="318.15" cy="181.80" r="1.1" fill="#333333"/>
<circle cx="321.60" cy="181.80" r="1.1" fill="#333333"/>
<line x1="314.00" y1="202.20" x2="334.60" y2="202.20" stroke="#333333" stroke-width="1.0"/>
<circle cx="320.85" cy="198.30" r="1.1" fill="#333333"/>
<circle cx="324.30" cy="198.30" r="1.1" fill="#333333"/>
<circle cx="327.75" cy="198.30" r="1.1" fill="#333333"/>
<text x="318.40" y="267.10" font-size="8.3" fill="#333333" stroke="#333333" stroke-width="0.1" textLength="24.30" lengthAdjust="spacingAndGlyphs" text-anchor="middle">Spleen</text>
<line x1="377.50" y1="172.00" x2="377.50" y2="253.80" stroke="#2b2b2b" stroke-width="1.1"/>
<line x1="375.40" y1="253.50" x2="377.50" y2="253.50" stroke="#2b2b2b" stroke-width="1.0"/>
<text x="372.00" y="256.30" font-size="8.3" fill="#333333" stroke="#333333" stroke-width="0.1" textLength="4.40" lengthAdjust="spacingAndGlyphs" text-anchor="end">0</text>
<line x1="375.40" y1="237.70" x2="377.50" y2="237.70" stroke="#2b2b2b" stroke-width="1.0"/>
<text x="372.00" y="240.50" font-size="8.3" fill="#333333" stroke="#333333" stroke-width="0.1" textLength="17.60" lengthAdjust="spacingAndGlyphs" text-anchor="end">1000</text>
<line x1="375.40" y1="221.90" x2="377.50" y2="221.90" stroke="#2b2b2b" stroke-width="1.0"/>
<text x="372.00" y="224.70" font-size="8.3" fill="#333333" stroke="#333333" stroke-width="0.1" textLength="17.60" lengthAdjust="spacingAndGlyphs" text-anchor="end">2000</text>
<line x1="375.40" y1="206.10" x2="377.50" y2="206.10" stroke="#2b2b2b" stroke-width="1.0"/>
<text x="372.00" y="208.90" font-size="8.3" fill="#333333" stroke="#333333" stroke-width="0.1" textLength="17.60" lengthAdjust="spacingAndGlyphs" text-anchor="end">3000</text>
<line x1="375.40" y1="190.30" x2="377.50" y2="190.30" stroke="#2b2b2b" stroke-width="1.0"/>
<text x="372.00" y="193.10" font-size="8.3" fill="#333333" stroke="#333333" stroke-width="0.1" textLength="17.60" lengthAdjust="spacingAndGlyphs" text-anchor="end">4000</text>
<line x1="375.40" y1="174.50" x2="377.50" y2="174.50" stroke="#2b2b2b" stroke-width="1.0"/>
<text x="372.00" y="177.30" font-size="8.3" fill="#333333" stroke="#333333" stroke-width="0.1" textLength="17.60" lengthAdjust="spacingAndGlyphs" text-anchor="end">5000</text>
<rect x="383.20" y="201.50" width="10.00" height="51.80" fill="#c6c6ca"/>
<rect x="399.00" y="205.50" width="10.30" height="47.80" fill="#2eaae3"/>
<rect x="414.90" y="226.00" width="10.00" height="27.30" fill="#f39200"/>
<line x1="374.60" y1="253.50" x2="430.50" y2="253.50" stroke="#2b2b2b" stroke-width="1.2"/>
<line x1="403.80" y1="253.50" x2="403.80" y2="255.80" stroke="#2b2b2b" stroke-width="1.0"/>
<line x1="388.30" y1="186.50" x2="388.30" y2="214.00" stroke="#404040" stroke-width="0.9"/>
<line x1="385.30" y1="186.50" x2="391.30" y2="186.50" stroke="#404040" stroke-width="0.9"/>
<circle cx="388.50" cy="186.50" r="2.4" stroke="#3a3a3a" stroke-width="0.8" fill="none"/>
<circle cx="385.50" cy="209.50" r="2.4" stroke="#3a3a3a" stroke-width="0.8" fill="none"/>
<circle cx="391.00" cy="206.30" r="2.4" stroke="#3a3a3a" stroke-width="0.8" fill="none"/>
<circle cx="401.50" cy="203.50" r="2.4" stroke="#3a3a3a" stroke-width="0.8" fill="none"/>
<circle cx="406.50" cy="203.00" r="2.4" stroke="#3a3a3a" stroke-width="0.8" fill="none"/>
<circle cx="401.00" cy="206.50" r="2.4" stroke="#3a3a3a" stroke-width="0.8" fill="none"/>
<circle cx="406.50" cy="206.50" r="2.4" stroke="#3a3a3a" stroke-width="0.8" fill="none"/>
<circle cx="404.00" cy="205.00" r="2.4" stroke="#3a3a3a" stroke-width="0.8" fill="none"/>
<circle cx="417.50" cy="226.50" r="2.4" stroke="#3a3a3a" stroke-width="0.8" fill="none"/>
<circle cx="420.50" cy="225.00" r="2.4" stroke="#3a3a3a" stroke-width="0.8" fill="none"/>
<circle cx="423.00" cy="225.50" r="2.4" stroke="#3a3a3a" stroke-width="0.8" fill="none"/>
<line x1="388.50" y1="180.80" x2="424.10" y2="180.80" stroke="#333333" stroke-width="1.0"/>
<circle cx="404.57" cy="176.90" r="1.1" fill="#333333"/>
<circle cx="408.02" cy="176.90" r="1.1" fill="#333333"/>
<line x1="398.90" y1="194.40" x2="419.20" y2="194.40" stroke="#333333" stroke-width="1.0"/>
<circle cx="409.05" cy="190.60" r="1.1" fill="#333333"/>
<text x="404.00" y="267.10" font-size="8.3" fill="#333333" stroke="#333333" stroke-width="0.1" textLength="16.60" lengthAdjust="spacingAndGlyphs" text-anchor="middle">Liver</text>
<rect x="433.20" y="194.50" width="6.00" height="5.80" fill="#c6c6ca"/>
<rect x="433.20" y="205.60" width="6.00" height="5.80" fill="#2eaae3"/>
<rect x="433.20" y="216.50" width="6.00" height="5.80" fill="#f39200"/>
<text x="442.60" y="199.60" font-size="7.4" fill="#333333" stroke="#333333" stroke-width="0.1" textLength="10.70" lengthAdjust="spacingAndGlyphs">WT</text>
<text x="442.60" y="210.50" font-size="7.4" fill="#333333" stroke="#333333" stroke-width="0.1" textLength="27.50" lengthAdjust="spacingAndGlyphs">Id3-cKO</text>
<text x="442.60" y="221.60" font-size="7.4" fill="#333333" stroke="#333333" stroke-width="0.1" textLength="33.80" lengthAdjust="spacingAndGlyphs">Id3-cKO +</text>
<text x="442.60" y="230.40" font-size="7.4" fill="#333333" stroke="#333333" stroke-width="0.1" textLength="28.20" lengthAdjust="spacingAndGlyphs">PD-1 Ab</text>
<text x="8.00" y="293.40" font-size="11.6" fill="#1a1a1a" stroke="#1a1a1a" stroke-width="0.3" font-weight="bold">E</text>
<text transform="translate(18.20,349.60) rotate(-90)" font-size="8.2" fill="#333333" stroke="#333333" stroke-width="0.1" textLength="88.00" lengthAdjust="spacingAndGlyphs" text-anchor="middle">Number of IFN-γ<tspan font-size="5.5" dy="-2.8">+</tspan><tspan dy="2.8">GM-CSF</tspan><tspan font-size="5.5" dy="-2.8">+</tspan></text>
<text transform="translate(29.20,348.50) rotate(-90)" font-size="8.2" fill="#333333" stroke="#333333" stroke-width="0.1" textLength="75.00" lengthAdjust="spacingAndGlyphs" text-anchor="middle">Th1 cells (×10<tspan font-size="5.5" dy="-2.8">4</tspan><tspan dy="2.8">/organ)</tspan></text>
<line x1="51.90" y1="306.60" x2="51.90" y2="388.90" stroke="#2b2b2b" stroke-width="1.1"/>
<line x1="49.80" y1="388.40" x2="51.90" y2="388.40" stroke="#2b2b2b" stroke-width="1.0"/>
<text x="46.70" y="391.40" font-size="8.2" fill="#333333" stroke="#333333" stroke-width="0.1" textLength="10.90" lengthAdjust="spacingAndGlyphs" text-anchor="end">0.0</text>
<line x1="49.80" y1="372.75" x2="51.90" y2="372.75" stroke="#2b2b2b" stroke-width="1.0"/>
<text x="46.70" y="375.75" font-size="8.2" fill="#333333" stroke="#333333" stroke-width="0.1" textLength="10.90" lengthAdjust="spacingAndGlyphs" text-anchor="end">1.0</text>
<line x1="49.80" y1="357.10" x2="51.90" y2="357.10" stroke="#2b2b2b" stroke-width="1.0"/>
<text x="46.70" y="360.10" font-size="8.2" fill="#333333" stroke="#333333" stroke-width="0.1" textLength="10.90" lengthAdjust="spacingAndGlyphs" text-anchor="end">2.0</text>
<line x1="49.80" y1="341.45" x2="51.90" y2="341.45" stroke="#2b2b2b" stroke-width="1.0"/>
<text x="46.70" y="344.45" font-size="8.2" fill="#333333" stroke="#333333" stroke-width="0.1" textLength="10.90" lengthAdjust="spacingAndGlyphs" text-anchor="end">3.0</text>
<line x1="49.80" y1="325.80" x2="51.90" y2="325.80" stroke="#2b2b2b" stroke-width="1.0"/>
<text x="46.70" y="328.80" font-size="8.2" fill="#333333" stroke="#333333" stroke-width="0.1" textLength="10.90" lengthAdjust="spacingAndGlyphs" text-anchor="end">4.0</text>
<line x1="49.80" y1="310.15" x2="51.90" y2="310.15" stroke="#2b2b2b" stroke-width="1.0"/>
<text x="46.70" y="313.15" font-size="8.2" fill="#333333" stroke="#333333" stroke-width="0.1" textLength="10.90" lengthAdjust="spacingAndGlyphs" text-anchor="end">5.0</text>
<rect x="58.10" y="343.70" width="9.90" height="44.70" fill="#c6c6ca"/>
<rect x="74.00" y="352.50" width="9.80" height="35.90" fill="#2eaae3"/>
<rect x="89.50" y="363.00" width="9.90" height="25.40" fill="#f39200"/>
<line x1="50.20" y1="388.50" x2="105.00" y2="388.50" stroke="#2b2b2b" stroke-width="1.2"/>
<line x1="78.50" y1="388.50" x2="78.50" y2="390.80" stroke="#2b2b2b" stroke-width="1.0"/>
<line x1="63.00" y1="324.40" x2="63.00" y2="366.00" stroke="#404040" stroke-width="0.9"/>
<line x1="60.00" y1="324.40" x2="66.00" y2="324.40" stroke="#404040" stroke-width="0.9"/>
<line x1="78.80" y1="332.20" x2="78.80" y2="372.00" stroke="#404040" stroke-width="0.9"/>
<line x1="75.80" y1="332.20" x2="81.80" y2="332.20" stroke="#404040" stroke-width="0.9"/>
<line x1="94.50" y1="342.00" x2="94.50" y2="384.00" stroke="#404040" stroke-width="0.9"/>
<line x1="91.50" y1="342.00" x2="97.50" y2="342.00" stroke="#404040" stroke-width="0.9"/>
<circle cx="63.00" cy="320.60" r="2.4" stroke="#3a3a3a" stroke-width="0.8" fill="none"/>
<circle cx="60.00" cy="330.40" r="2.4" stroke="#3a3a3a" stroke-width="0.8" fill="none"/>
<circle cx="66.00" cy="331.00" r="2.4" stroke="#3a3a3a" stroke-width="0.8" fill="none"/>
<circle cx="63.00" cy="345.70" r="2.4" stroke="#3a3a3a" stroke-width="0.8" fill="none"/>
<circle cx="60.10" cy="366.30" r="2.4" stroke="#3a3a3a" stroke-width="0.8" fill="none"/>
<circle cx="65.70" cy="366.00" r="2.4" stroke="#3a3a3a" stroke-width="0.8" fill="none"/>
<circle cx="75.50" cy="329.50" r="2.4" stroke="#3a3a3a" stroke-width="0.8" fill="none"/>
<circle cx="81.00" cy="327.00" r="2.4" stroke="#3a3a3a" stroke-width="0.8" fill="none"/>
<circle cx="78.80" cy="353.70" r="2.4" stroke="#3a3a3a" stroke-width="0.8" fill="none"/>
<circle cx="78.80" cy="360.00" r="2.4" stroke="#3a3a3a" stroke-width="0.8" fill="none"/>
<circle cx="75.70" cy="372.00" r="2.4" stroke="#3a3a3a" stroke-width="0.8" fill="none"/>
<circle cx="81.80" cy="372.00" r="2.4" stroke="#3a3a3a" stroke-width="0.8" fill="none"/>
<circle cx="94.50" cy="325.00" r="2.4" stroke="#3a3a3a" stroke-width="0.8" fill="none"/>
<circle cx="94.50" cy="355.90" r="2.4" stroke="#3a3a3a" stroke-width="0.8" fill="none"/>
<circle cx="97.50" cy="365.70" r="2.4" stroke="#3a3a3a" stroke-width="0.8" fill="none"/>
<circle cx="92.00" cy="370.50" r="2.4" stroke="#3a3a3a" stroke-width="0.8" fill="none"/>
<circle cx="97.00" cy="375.50" r="2.4" stroke="#3a3a3a" stroke-width="0.8" fill="none"/>
<circle cx="94.50" cy="384.50" r="2.4" stroke="#3a3a3a" stroke-width="0.8" fill="none"/>
<text x="78.80" y="402.10" font-size="8.3" fill="#333333" stroke="#333333" stroke-width="0.1" textLength="24.30" lengthAdjust="spacingAndGlyphs" text-anchor="middle">Spleen</text>
<line x1="137.20" y1="306.60" x2="137.20" y2="388.90" stroke="#2b2b2b" stroke-width="1.1"/>
<line x1="135.10" y1="388.60" x2="137.20" y2="388.60" stroke="#2b2b2b" stroke-width="1.0"/>
<text x="131.60" y="391.30" font-size="8.2" fill="#333333" stroke="#333333" stroke-width="0.1" textLength="10.80" lengthAdjust="spacingAndGlyphs" text-anchor="end">0.0</text>
<line x1="135.10" y1="368.70" x2="137.20" y2="368.70" stroke="#2b2b2b" stroke-width="1.0"/>
<text x="131.60" y="371.40" font-size="8.2" fill="#333333" stroke="#333333" stroke-width="0.1" textLength="10.80" lengthAdjust="spacingAndGlyphs" text-anchor="end">0.5</text>
<line x1="135.10" y1="348.80" x2="137.20" y2="348.80" stroke="#2b2b2b" stroke-width="1.0"/>
<text x="131.60" y="351.50" font-size="8.2" fill="#333333" stroke="#333333" stroke-width="0.1" textLength="10.80" lengthAdjust="spacingAndGlyphs" text-anchor="end">1.0</text>
<line x1="135.10" y1="328.90" x2="137.20" y2="328.90" stroke="#2b2b2b" stroke-width="1.0"/>
<text x="131.60" y="331.60" font-size="8.2" fill="#333333" stroke="#333333" stroke-width="0.1" textLength="10.80" lengthAdjust="spacingAndGlyphs" text-anchor="end">1.5</text>
<line x1="135.10" y1="309.00" x2="137.20" y2="309.00" stroke="#2b2b2b" stroke-width="1.0"/>
<text x="131.60" y="311.70" font-size="8.2" fill="#333333" stroke="#333333" stroke-width="0.1" textLength="10.80" lengthAdjust="spacingAndGlyphs" text-anchor="end">2.0</text>
<rect x="142.80" y="364.90" width="10.20" height="23.50" fill="#c6c6ca"/>
<rect x="158.70" y="384.30" width="10.50" height="4.10" fill="#2eaae3"/>
<rect x="174.90" y="360.20" width="9.80" height="28.20" fill="#f39200"/>
<line x1="136.60" y1="388.50" x2="190.00" y2="388.50" stroke="#2b2b2b" stroke-width="1.2"/>
<line x1="163.60" y1="388.50" x2="163.60" y2="390.80" stroke="#2b2b2b" stroke-width="1.0"/>
<line x1="147.90" y1="345.90" x2="147.90" y2="383.00" stroke="#404040" stroke-width="0.9"/>
<line x1="144.90" y1="345.90" x2="150.90" y2="345.90" stroke="#404040" stroke-width="0.9"/>
<line x1="163.80" y1="377.00" x2="163.80" y2="388.00" stroke="#404040" stroke-width="0.9"/>
<line x1="160.80" y1="377.00" x2="166.80" y2="377.00" stroke="#404040" stroke-width="0.9"/>
<line x1="179.70" y1="347.90" x2="179.70" y2="372.00" stroke="#404040" stroke-width="0.9"/>
<line x1="176.70" y1="347.90" x2="182.70" y2="347.90" stroke="#404040" stroke-width="0.9"/>
<circle cx="147.90" cy="330.70" r="2.4" stroke="#3a3a3a" stroke-width="0.8" fill="none"/>
<circle cx="147.90" cy="358.30" r="2.4" stroke="#3a3a3a" stroke-width="0.8" fill="none"/>
<circle cx="147.90" cy="365.30" r="2.4" stroke="#3a3a3a" stroke-width="0.8" fill="none"/>
<circle cx="147.80" cy="371.40" r="2.4" stroke="#3a3a3a" stroke-width="0.8" fill="none"/>
<circle cx="150.80" cy="379.60" r="2.4" stroke="#3a3a3a" stroke-width="0.8" fill="none"/>
<circle cx="145.00" cy="383.30" r="2.4" stroke="#3a3a3a" stroke-width="0.8" fill="none"/>
<circle cx="163.50" cy="373.60" r="2.4" stroke="#3a3a3a" stroke-width="0.8" fill="none"/>
<circle cx="166.80" cy="381.30" r="2.4" stroke="#3a3a3a" stroke-width="0.8" fill="none"/>
<circle cx="160.00" cy="385.00" r="2.4" stroke="#3a3a3a" stroke-width="0.8" fill="none"/>
<circle cx="166.00" cy="385.00" r="2.4" stroke="#3a3a3a" stroke-width="0.8" fill="none"/>
<circle cx="163.00" cy="386.00" r="2.4" stroke="#3a3a3a" stroke-width="0.8" fill="none"/>
<circle cx="179.60" cy="342.50" r="2.4" stroke="#3a3a3a" stroke-width="0.8" fill="none"/>
<circle cx="177.00" cy="358.00" r="2.4" stroke="#3a3a3a" stroke-width="0.8" fill="none"/>
<circle cx="184.00" cy="358.00" r="2.4" stroke="#3a3a3a" stroke-width="0.8" fill="none"/>
<circle cx="179.60" cy="368.60" r="2.4" stroke="#3a3a3a" stroke-width="0.8" fill="none"/>
<circle cx="179.60" cy="375.90" r="2.4" stroke="#3a3a3a" stroke-width="0.8" fill="none"/>
<line x1="143.80" y1="324.40" x2="163.60" y2="324.40" stroke="#333333" stroke-width="1.0"/>
<circle cx="153.70" cy="320.30" r="1.1" fill="#333333"/>
<line x1="160.30" y1="336.60" x2="180.20" y2="336.60" stroke="#333333" stroke-width="1.0"/>
<circle cx="168.53" cy="332.70" r="1.1" fill="#333333"/>
<circle cx="171.97" cy="332.70" r="1.1" fill="#333333"/>
<text x="163.90" y="402.10" font-size="8.3" fill="#333333" stroke="#333333" stroke-width="0.1" textLength="15.60" lengthAdjust="spacingAndGlyphs" text-anchor="middle">Liver</text>
<rect x="190.00" y="307.80" width="6.00" height="5.80" fill="#c6c6ca"/>
<rect x="190.00" y="318.80" width="6.00" height="5.80" fill="#2eaae3"/>
<rect x="190.00" y="329.70" width="6.00" height="5.80" fill="#f39200"/>
<text x="199.00" y="312.50" font-size="7.4" fill="#333333" stroke="#333333" stroke-width="0.1" textLength="10.70" lengthAdjust="spacingAndGlyphs">WT</text>
<text x="199.00" y="323.30" font-size="7.4" fill="#333333" stroke="#333333" stroke-width="0.1" textLength="27.50" lengthAdjust="spacingAndGlyphs">Id3-cKO</text>
<text x="199.00" y="334.60" font-size="7.4" fill="#333333" stroke="#333333" stroke-width="0.1" textLength="33.80" lengthAdjust="spacingAndGlyphs">Id3-cKO +</text>
<text x="199.00" y="343.60" font-size="7.4" fill="#333333" stroke="#333333" stroke-width="0.1" textLength="28.20" lengthAdjust="spacingAndGlyphs">PD-1 Ab</text>
<text x="252.20" y="293.40" font-size="11.6" fill="#1a1a1a" stroke="#1a1a1a" stroke-width="0.3" font-weight="bold">F</text>
<text x="292.00" y="305.00" font-size="7.0" fill="#333333" stroke="#333333" stroke-width="0.1" textLength="6.60" lengthAdjust="spacingAndGlyphs">B6</text>
<line x1="301.50" y1="302.60" x2="307.10" y2="302.60" stroke="#333333" stroke-width="0.8"/>
<polygon points="306.30,301.10 309.30,302.60 306.30,304.10" fill="#333333"/>
<text x="312.00" y="305.00" font-size="7.0" fill="#333333" stroke="#333333" stroke-width="0.1" textLength="19.20" lengthAdjust="spacingAndGlyphs">Balb/c</text>
<line x1="283.50" y1="307.20" x2="283.50" y2="389.50" stroke="#2b2b2b" stroke-width="1.1"/>
<line x1="280.60" y1="389.00" x2="283.50" y2="389.00" stroke="#2b2b2b" stroke-width="1.0"/>
<line x1="282.20" y1="385.39" x2="283.50" y2="385.39" stroke="#2b2b2b" stroke-width="0.8"/>
<line x1="282.20" y1="381.78" x2="283.50" y2="381.78" stroke="#2b2b2b" stroke-width="0.8"/>
<line x1="282.20" y1="378.17" x2="283.50" y2="378.17" stroke="#2b2b2b" stroke-width="0.8"/>
<line x1="282.20" y1="374.56" x2="283.50" y2="374.56" stroke="#2b2b2b" stroke-width="0.8"/>
<line x1="282.20" y1="370.95" x2="283.50" y2="370.95" stroke="#2b2b2b" stroke-width="0.8"/>
<line x1="282.20" y1="367.34" x2="283.50" y2="367.34" stroke="#2b2b2b" stroke-width="0.8"/>
<line x1="282.20" y1="363.73" x2="283.50" y2="363.73" stroke="#2b2b2b" stroke-width="0.8"/>
<line x1="282.20" y1="360.12" x2="283.50" y2="360.12" stroke="#2b2b2b" stroke-width="0.8"/>
<line x1="282.20" y1="356.51" x2="283.50" y2="356.51" stroke="#2b2b2b" stroke-width="0.8"/>
<line x1="280.60" y1="352.90" x2="283.50" y2="352.90" stroke="#2b2b2b" stroke-width="1.0"/>
<line x1="282.20" y1="349.29" x2="283.50" y2="349.29" stroke="#2b2b2b" stroke-width="0.8"/>
<line x1="282.20" y1="345.68" x2="283.50" y2="345.68" stroke="#2b2b2b" stroke-width="0.8"/>
<line x1="282.20" y1="342.07" x2="283.50" y2="342.07" stroke="#2b2b2b" stroke-width="0.8"/>
<line x1="282.20" y1="338.46" x2="283.50" y2="338.46" stroke="#2b2b2b" stroke-width="0.8"/>
<line x1="282.20" y1="334.85" x2="283.50" y2="334.85" stroke="#2b2b2b" stroke-width="0.8"/>
<line x1="282.20" y1="331.24" x2="283.50" y2="331.24" stroke="#2b2b2b" stroke-width="0.8"/>
<line x1="282.20" y1="327.63" x2="283.50" y2="327.63" stroke="#2b2b2b" stroke-width="0.8"/>
<line x1="282.20" y1="324.02" x2="283.50" y2="324.02" stroke="#2b2b2b" stroke-width="0.8"/>
<line x1="282.20" y1="320.41" x2="283.50" y2="320.41" stroke="#2b2b2b" stroke-width="0.8"/>
<line x1="280.60" y1="316.80" x2="283.50" y2="316.80" stroke="#2b2b2b" stroke-width="1.0"/>
<line x1="282.20" y1="313.19" x2="283.50" y2="313.19" stroke="#2b2b2b" stroke-width="0.8"/>
<line x1="282.20" y1="309.58" x2="283.50" y2="309.58" stroke="#2b2b2b" stroke-width="0.8"/>
<text x="277.40" y="319.70" font-size="8.2" fill="#333333" stroke="#333333" stroke-width="0.1" textLength="12.60" lengthAdjust="spacingAndGlyphs" text-anchor="end">100</text>
<text x="277.40" y="355.80" font-size="8.2" fill="#333333" stroke="#333333" stroke-width="0.1" textLength="8.40" lengthAdjust="spacingAndGlyphs" text-anchor="end">50</text>
<text x="277.40" y="391.90" font-size="8.2" fill="#333333" stroke="#333333" stroke-width="0.1" textLength="4.40" lengthAdjust="spacingAndGlyphs" text-anchor="end">0</text>
<line x1="283.00" y1="388.90" x2="405.60" y2="388.90" stroke="#2b2b2b" stroke-width="1.1"/>
<line x1="283.50" y1="389.00" x2="283.50" y2="391.50" stroke="#2b2b2b" stroke-width="1.0"/>
<text x="283.50" y="401.60" font-size="8.2" fill="#333333" stroke="#333333" stroke-width="0.1" text-anchor="middle">0</text>
<line x1="313.35" y1="389.00" x2="313.35" y2="391.50" stroke="#2b2b2b" stroke-width="1.0"/>
<text x="313.35" y="401.60" font-size="8.2" fill="#333333" stroke="#333333" stroke-width="0.1" text-anchor="middle">20</text>
<line x1="343.20" y1="389.00" x2="343.20" y2="391.50" stroke="#2b2b2b" stroke-width="1.0"/>
<text x="343.20" y="401.60" font-size="8.2" fill="#333333" stroke="#333333" stroke-width="0.1" text-anchor="middle">40</text>
<line x1="373.05" y1="389.00" x2="373.05" y2="391.50" stroke="#2b2b2b" stroke-width="1.0"/>
<text x="373.05" y="401.60" font-size="8.2" fill="#333333" stroke="#333333" stroke-width="0.1" text-anchor="middle">60</text>
<line x1="402.90" y1="389.00" x2="402.90" y2="391.50" stroke="#2b2b2b" stroke-width="1.0"/>
<text x="402.90" y="401.60" font-size="8.2" fill="#333333" stroke="#333333" stroke-width="0.1" text-anchor="middle">80</text>
<text x="344.60" y="415.20" font-size="9.0" fill="#333333" stroke="#333333" stroke-width="0.1" textLength="85.40" lengthAdjust="spacingAndGlyphs" text-anchor="middle">Days after transplantation</text>
<text transform="translate(258.60,347.20) rotate(-90)" font-size="8.8" fill="#333333" stroke="#333333" stroke-width="0.1" textLength="52.00" lengthAdjust="spacingAndGlyphs" text-anchor="middle">Percent survival</text>
<path d="M283.5,316.8 H292.7535 V323.3702 H312.753 V329.9404 H329.31975 V336.5106 H335.7375 V343.0808 H363.05025 V349.651 H392.4525" stroke="#2d5f93" stroke-width="1.0" fill="none" />
<path d="M283.5,316.8 H381.408" stroke="#983452" stroke-width="1.1" fill="none" />
<path d="M290.3655,316.8 V322.7926 H291.858 V328.8574 H293.649 V334.85 H294.99225 V352.9 H296.634 V358.8926 H298.1265 V364.9574 H322.0065 V376.9426 H330.81225 V389.0" stroke="#bd2a4c" stroke-width="1.0" fill="none" />
<path d="M290.10,321.39 L295.40,321.39 L292.75,326.16 Z" stroke="#2d5f93" stroke-width="0.9" fill="#fff" />
<path d="M310.10,327.96 L315.40,327.96 L312.75,332.73 Z" stroke="#2d5f93" stroke-width="0.9" fill="#fff" />
<path d="M326.67,334.53 L331.97,334.53 L329.32,339.30 Z" stroke="#2d5f93" stroke-width="0.9" fill="#fff" />
<path d="M333.09,341.10 L338.39,341.10 L335.74,345.87 Z" stroke="#2d5f93" stroke-width="0.9" fill="#fff" />
<path d="M360.40,347.67 L365.70,347.67 L363.05,352.44 Z" stroke="#2d5f93" stroke-width="0.9" fill="#fff" />
<path d="M378.76,347.67 L384.06,347.67 L381.41,352.44 Z" stroke="#2d5f93" stroke-width="0.9" fill="#fff" />
<rect x="287.92" y="320.34" width="4.9" height="4.9" stroke="#bd2a4c" stroke-width="0.9" fill="#fff"/>
<rect x="289.41" y="326.41" width="4.9" height="4.9" stroke="#bd2a4c" stroke-width="0.9" fill="#fff"/>
<rect x="291.20" y="332.40" width="4.9" height="4.9" stroke="#bd2a4c" stroke-width="0.9" fill="#fff"/>
<rect x="292.54" y="350.45" width="4.9" height="4.9" stroke="#bd2a4c" stroke-width="0.9" fill="#fff"/>
<rect x="294.18" y="356.44" width="4.9" height="4.9" stroke="#bd2a4c" stroke-width="0.9" fill="#fff"/>
<rect x="295.68" y="362.51" width="4.9" height="4.9" stroke="#bd2a4c" stroke-width="0.9" fill="#fff"/>
<rect x="319.56" y="374.49" width="4.9" height="4.9" stroke="#bd2a4c" stroke-width="0.9" fill="#fff"/>
<rect x="328.36" y="386.55" width="4.9" height="4.9" stroke="#bd2a4c" stroke-width="0.9" fill="#fff"/>
<circle cx="381.41" cy="316.80" r="2.8" stroke="#c81e3a" stroke-width="0.9" fill="#c81e3a"/>
<line x1="379.61" y1="316.80" x2="383.21" y2="316.80" stroke="#7a0a1c" stroke-width="0.6"/>
<path d="M384.4,318.7 H392.5 V327.2 M392.5,337.4 V343.0 H383.0" stroke="#444" stroke-width="1.0" fill="none" />
<circle cx="387.47" cy="330.90" r="1.1" fill="#333333"/>
<circle cx="390.92" cy="330.90" r="1.1" fill="#333333"/>
<path d="M386.0,349.6 H392.5 V357.0 M392.5,371.9 V385.3 H383.8" stroke="#444" stroke-width="1.0" fill="none" />
<circle cx="387.77" cy="365.50" r="1.1" fill="#333333"/>
<circle cx="391.22" cy="365.50" r="1.1" fill="#333333"/>
<line x1="408.50" y1="326.90" x2="418.50" y2="326.90" stroke="#bd2a4c" stroke-width="1.0"/>
<circle cx="413.50" cy="326.90" r="2.6" stroke="#bd2a4c" stroke-width="0.9" fill="#fff"/>
<line x1="410.90" y1="326.90" x2="416.10" y2="326.90" stroke="#bd2a4c" stroke-width="0.9"/>
<text x="421.20" y="329.30" font-size="7.4" fill="#333333" stroke="#333333" stroke-width="0.1" textLength="52.80" lengthAdjust="spacingAndGlyphs">TCD-BM (n = 5)</text>
<line x1="408.50" y1="337.90" x2="418.50" y2="337.90" stroke="#bd2a4c" stroke-width="1.0"/>
<rect x="411.20" y="335.60" width="4.6" height="4.6" stroke="#bd2a4c" stroke-width="0.9" fill="#fff"/>
<line x1="411.20" y1="337.90" x2="415.80" y2="337.90" stroke="#bd2a4c" stroke-width="0.9"/>
<text x="421.20" y="340.20" font-size="7.4" fill="#333333" stroke="#333333" stroke-width="0.1" textLength="55.80" lengthAdjust="spacingAndGlyphs">WT CD4 (n = 12)</text>
<line x1="408.50" y1="349.40" x2="418.50" y2="349.40" stroke="#a8142e" stroke-width="1.0"/>
<path d="M411.00,351.25 L416.00,351.25 L413.50,346.75 Z" stroke="#a8142e" stroke-width="0.9" fill="#a8142e" />
<text x="421.20" y="350.90" font-size="7.4" fill="#333333" stroke="#333333" stroke-width="0.1" textLength="72.10" lengthAdjust="spacingAndGlyphs">Id3-cKO CD4 (n = 12)</text>
<line x1="408.50" y1="359.60" x2="418.50" y2="359.60" stroke="#2d5f93" stroke-width="1.0"/>
<path d="M411.10,357.64 L415.90,357.64 L413.50,361.96 Z" stroke="#2d5f93" stroke-width="0.9" fill="#fff" />
<text x="421.20" y="361.90" font-size="7.4" fill="#333333" stroke="#333333" stroke-width="0.1" textLength="50.80" lengthAdjust="spacingAndGlyphs">Id3-cKO CD4 +</text>
<text x="421.20" y="370.80" font-size="7.4" fill="#333333" stroke="#333333" stroke-width="0.1" textLength="56.70" lengthAdjust="spacingAndGlyphs">PD-1 Ab (n = 11)</text>
<rect x="0.5" y="0.5" width="519" height="423" fill="none" stroke="#555" stroke-width="1"/>
</svg>
</body></html>
